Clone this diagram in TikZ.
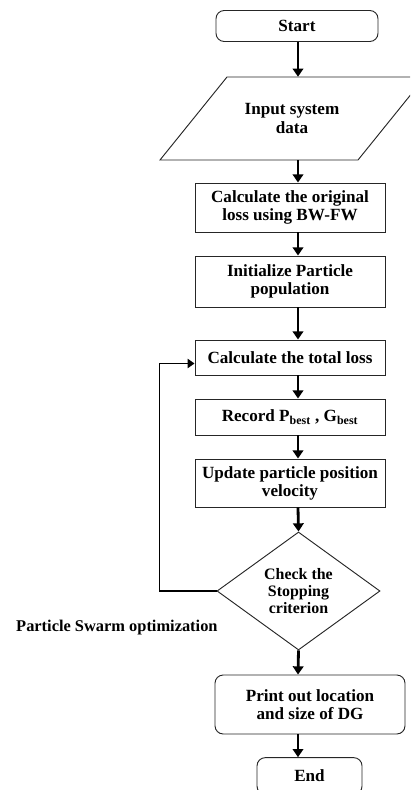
\documentclass[tikz,border=0pt]{standalone}
\usepackage{fontspec}
\setmainfont{Liberation Serif}
\usetikzlibrary{shapes.geometric,arrows.meta}
\begin{document}
\begin{tikzpicture}[x=0.03cm,y=-0.03cm,
		txt/.style={align=center,font=\fontsize{14.6}{15.5}\selectfont\bfseries},
		box/.style={txt,draw=black!85,line width=0.8pt,minimum width=5.7cm,inner sep=2pt},
		rbox/.style={box,rounded corners=7pt},
		flow/.style={line width=2.4pt,-{Triangle[width=9pt,length=7pt]}},
		back/.style={line width=1.4pt,-{Triangle[width=8pt,length=6pt]}}]
			\useasboundingbox (0,0) rectangle (410,790);
			\clip (0,0) rectangle (410,790);
			\coordinate (col) at (298,0);
			\node[rbox,minimum width=4.86cm,minimum height=0.93cm] (start) at (297,26) {Start};
			\node[txt,minimum height=2.49cm] (inp) at (292,118.5) {Input system\\data};
			\draw[black!85,line width=0.8pt] (227,77) -- (425,77) -- (358,160) -- (160,160) -- cycle;
			\node[box,minimum height=1.47cm] (orig) at (290,207.5) {Calculate the original\\loss using BW-FW};
			\node[box,minimum height=1.53cm] (init) at (290,281.5) {Initialize Particle\\population};
			\node[box,minimum height=1.05cm] (total) at (290,357.5) {Calculate the total loss};
			\node[box,minimum height=1.08cm] (rec) at (290,417) {Record P\textsubscript{best} , G\textsubscript{best}};
			\node[box,minimum height=1.44cm] (upd) at (290,483) {Update particle position\\velocity};
			\node[diamond,draw=black!85,line width=0.8pt,inner sep=0pt,minimum width=4.89cm,minimum height=3.54cm,align=center,font=\fontsize{13.6}{14.5}\selectfont\bfseries] (chk) at (298.5,591) {Check the\\Stopping\\criterion};
			\node[font=\fontsize{14}{15}\selectfont\bfseries,anchor=west,inner sep=0pt] (pso) at (16,628) {Particle Swarm optimization};
			\node[rbox,minimum height=1.77cm] (prt) at (310,704.5) {Print out location\\and size of DG};
			\node[rbox,minimum width=3.15cm,minimum height=1.1cm] (fin) at (309.5,776) {End};
			\draw[flow] (start.south -| col) -- (inp.north -| col);
			\draw[flow] (inp.south -| col) -- (orig.north -| col);
			\draw[flow] (orig.south -| col) -- (init.north -| col);
			\draw[flow] (init.south -| col) -- (total.north -| col);
			\draw[flow] (total.south -| col) -- (rec.north -| col);
			\draw[flow] (rec.south -| col) -- (upd.north -| col);
			\draw[flow] (upd.south -| col) -- (chk.north);
			\draw[flow] (chk.south) -- (prt.north -| col);
			\draw[flow] (prt.south -| col) -- (fin.north -| col);
			\draw[back] (chk.west) -- ++(-57,0) |- ([yshift=-0.18cm]total.west);
		\end{tikzpicture}
\end{document}
